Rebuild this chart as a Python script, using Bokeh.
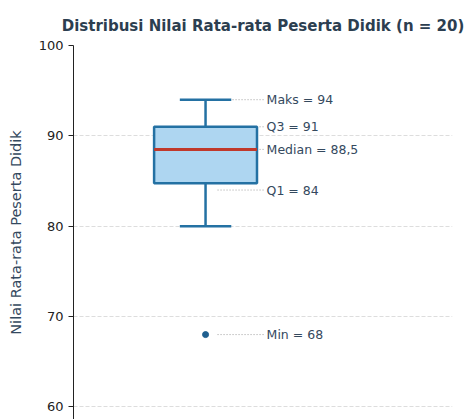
from bokeh.plotting import figure
from bokeh.models import Range1d, FixedTicker, ColumnDataSource
from bokeh.embed import file_html
from bokeh.resources import INLINE

# ---- data ----
position = [1.0]
box_q1 = [84.75]
box_q3 = [91.0]
box_median = [88.5]
whisker_low = [80.0]
whisker_high = [94.0]
outliers = [68.0]

ann_labels = ["Maks = 94", "Q3 = 91", "Median = 88,5", "Q1 = 84", "Min = 68"]
ann_values = [94.0, 91.0, 88.5, 84.0, 68.0]

y_ticks = [60, 70, 80, 90, 100]

# ---- style ----
box_half = 0.15
cap_half = 0.075
ann_x0 = 1.035
ann_x1 = 1.172
ann_tx = 1.178
blue = "#2471a3"

p = figure(width=468, height=419, output_backend="svg", toolbar_location=None,
           x_range=Range1d(0.615, 1.72), y_range=Range1d(58.6, 100),
           title="Distribusi Nilai Rata-rata Peserta Didik (n = 20)",
           min_border_left=73, min_border_right=16, min_border_bottom=0, min_border_top=45)
p.title.text_font = "DejaVu Sans"
p.title.text_font_size = "15px"
p.title.text_font_style = "bold"
p.title.text_color = "#2c3e50"
p.title.align = "center"
p.title.standoff = 22

p.outline_line_color = None
p.xaxis.visible = False
p.xgrid.visible = False
p.ygrid.grid_line_color = "#dddddd"
p.ygrid.grid_line_dash = "4 2"
p.ygrid.grid_line_width = 1

ax = p.yaxis[0]
ax.ticker = FixedTicker(ticks=y_ticks)
ax.minor_tick_line_color = None
ax.major_tick_in = 0
ax.major_tick_out = 5
ax.axis_line_color = "#222222"
ax.major_tick_line_color = "#222222"
ax.major_label_text_font = "DejaVu Sans"
ax.major_label_text_font_size = "13px"
ax.major_label_text_color = "#222222"
ax.axis_label = "Nilai Rata-rata Peserta Didik"
ax.axis_label_text_font = "DejaVu Sans"
ax.axis_label_text_font_size = "14.5px"
ax.axis_label_text_font_style = "normal"
ax.axis_label_text_color = "#34495e"
ax.axis_label_standoff = 12

# annotation dotted guides (behind box)
ann = ColumnDataSource(dict(x0=[ann_x0] * len(ann_values), x1=[ann_x1] * len(ann_values),
                            tx=[ann_tx] * len(ann_values), y=ann_values, label=ann_labels))
p.segment(x0="x0", y0="y", x1="x1", y1="y", source=ann, line_color="#a0a0a0",
          line_dash="1 2", line_width=1)

# whiskers
p.segment(x0=position, y0=box_q3, x1=position, y1=whisker_high, line_color=blue, line_width=2.5)
p.segment(x0=position, y0=box_q1, x1=position, y1=whisker_low, line_color=blue, line_width=2.5)
# caps
p.segment(x0=[position[0] - cap_half], y0=whisker_high, x1=[position[0] + cap_half], y1=whisker_high,
          line_color=blue, line_width=2.5)
p.segment(x0=[position[0] - cap_half], y0=whisker_low, x1=[position[0] + cap_half], y1=whisker_low,
          line_color=blue, line_width=2.5)
# box
p.quad(left=[position[0] - box_half], right=[position[0] + box_half], top=box_q3, bottom=box_q1,
       fill_color="#aed6f1", line_color=blue, line_width=2.5)
# median
p.segment(x0=[position[0] - box_half], y0=box_median, x1=[position[0] + box_half], y1=box_median,
          line_color="#c0392b", line_width=3)
# outliers
p.scatter(x=position * len(outliers), y=outliers, size=6, fill_color="#1f5f8f", line_color="#1f5f8f")

# annotation texts
p.text(x="tx", y="y", text="label", source=ann, text_font_size="12.5px", text_color="#34495e",
       text_baseline="middle", text_align="left", text_font={"value": "DejaVu Sans"})

open("out.html", "w").write(file_html(p, INLINE))
